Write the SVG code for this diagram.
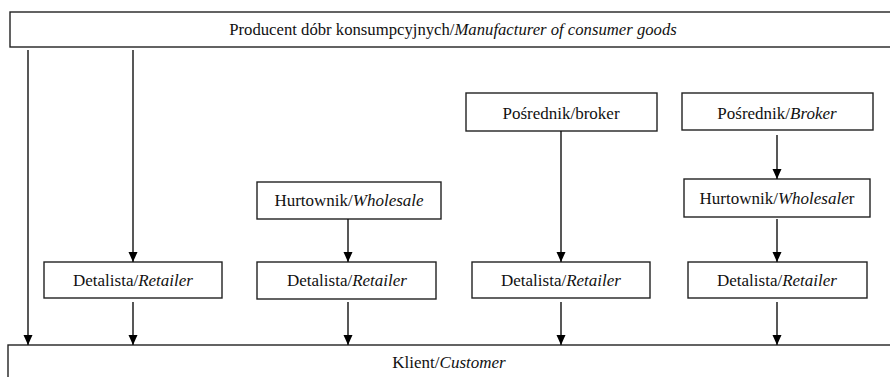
<svg xmlns="http://www.w3.org/2000/svg" width="890" height="377" viewBox="0 0 890 377">
<style>
.box{fill:#fff;stroke:#222;stroke-width:1.4}
.t{font-family:'Liberation Serif','Times New Roman',serif;font-size:17px;fill:#111;text-anchor:middle}
.i{font-style:italic}
.c{stroke:#111;stroke-width:1.4;fill:none;marker-end:url(#ah)}
</style>
<defs>
<marker id="ah" viewBox="0 0 10 10" refX="10" refY="5" markerWidth="10" markerHeight="10" markerUnits="userSpaceOnUse" orient="auto">
<path d="M0,0.5 L10,5 L0,9.5 Z" fill="#000"/>
</marker>
</defs>
<rect width="890" height="377" fill="#fff"/>
<g id="producer"><rect class="box" x="10" y="12" width="890" height="35"/><text class="t" style="font-size:16.7px" x="453" y="35">Producent dóbr konsumpcyjnych/<tspan class="i">Manufacturer of consumer goods</tspan></text></g>
<g id="customer"><rect class="box" x="8" y="345" width="890" height="45"/><text class="t" x="449" y="368">Klient/<tspan class="i">Customer</tspan></text></g>
<g id="retailer1"><rect class="box" x="44" y="262" width="178" height="36"/><text class="t" x="133" y="286">Detalista/<tspan class="i">Retailer</tspan></text></g>
<g id="wholesale1"><rect class="box" x="257" y="182" width="184" height="37"/><text class="t" x="349" y="206">Hurtownik/<tspan class="i">Wholesale</tspan></text></g>
<g id="retailer2"><rect class="box" x="257" y="262" width="179" height="37"/><text class="t" x="347" y="286">Detalista/<tspan class="i">Retailer</tspan></text></g>
<g id="broker1"><rect class="box" x="466" y="93" width="191" height="38"/><text class="t" x="561" y="119">Pośrednik/broker</text></g>
<g id="retailer3"><rect class="box" x="472" y="262" width="178" height="36"/><text class="t" x="561" y="286">Detalista/<tspan class="i">Retailer</tspan></text></g>
<g id="broker2"><rect class="box" x="682" y="93" width="191" height="37"/><text class="t" x="777" y="119">Pośrednik/<tspan class="i">Broker</tspan></text></g>
<g id="wholesale2"><rect class="box" x="684" y="179" width="186" height="38"/><text class="t" x="777" y="204">Hurtownik/<tspan class="i">Wholesale</tspan>r</text></g>
<g id="retailer4"><rect class="box" x="688" y="262" width="179" height="36"/><text class="t" x="777" y="286">Detalista/<tspan class="i">Retailer</tspan></text></g>
<g id="connectors">
<line class="c" x1="28" y1="50" x2="28" y2="345"/>
<line class="c" x1="133" y1="50" x2="133" y2="262"/>
<line class="c" x1="133" y1="302" x2="133" y2="345"/>
<line class="c" x1="348" y1="219" x2="348" y2="262"/>
<line class="c" x1="348" y1="302" x2="348" y2="345"/>
<line class="c" x1="561" y1="131" x2="561" y2="262"/>
<line class="c" x1="561" y1="302" x2="561" y2="345"/>
<line class="c" x1="777" y1="135" x2="777" y2="179"/>
<line class="c" x1="777" y1="219" x2="777" y2="262"/>
<line class="c" x1="777" y1="302" x2="777" y2="345"/>
</g>
</svg>
